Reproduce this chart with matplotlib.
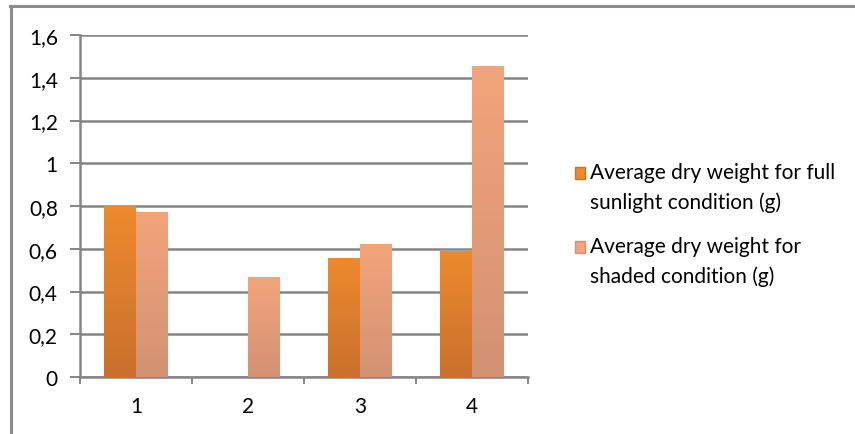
import numpy as np
import matplotlib
matplotlib.use('Agg')
import matplotlib.pyplot as plt
from matplotlib.colors import LinearSegmentedColormap
from matplotlib.lines import Line2D
from matplotlib.patches import Patch, Rectangle
from matplotlib.legend_handler import HandlerPatch

CATEGORIES = ['1', '2', '3', '4']
SUN = [0.80, 0.0, 0.555, 0.59]
SHADE = [0.77, 0.47, 0.62, 1.455]
LABELS = ['Average dry weight for full\nsunlight condition (g)',
          'Average dry weight for\nshaded condition (g)']
YTICKS = [0, 0.2, 0.4, 0.6, 0.8, 1.0, 1.2, 1.4, 1.6]
YTICK_LABELS = ['0', '0,2', '0,4', '0,6', '0,8', '1', '1,2', '1,4', '1,6']

# (top colour, bottom colour) for the Excel-like gradient
SUN_COLORS = ('#ee8a2c', '#c8702c')
SHADE_COLORS = ('#f3a47a', '#d39274')
GRID = '#858585'

plt.rcParams['font.family'] = ['Lato', 'DejaVu Sans']

fig = plt.figure(figsize=(8.55, 4.35), dpi=100)
ax = fig.add_axes([80 / 855, 1 - 378 / 435, 448 / 855, 342 / 435])

x = np.arange(len(CATEGORIES))
w = 0.285


def gradient_bars(xs, vals, colors):
    cmap = LinearSegmentedColormap.from_list('g', [colors[1], colors[0]])
    bars = ax.bar(xs, vals, w, color=colors[0], zorder=3)
    grad = np.linspace(0, 1, 256).reshape(-1, 1)
    for b in bars:
        if b.get_height() <= 0:
            continue
        bx, by = b.get_x(), b.get_y()
        im = ax.imshow(grad, cmap=cmap, aspect='auto', origin='lower',
                       extent=[bx, bx + b.get_width(), by, by + b.get_height()],
                       zorder=3.5)
        im.set_clip_path(b)
    return bars


gradient_bars(x - w / 2, SUN, SUN_COLORS)
gradient_bars(x + w / 2, SHADE, SHADE_COLORS)

ax.set_xlim(-0.5, len(CATEGORIES) - 0.5)
ax.set_ylim(0, 1.6)
ax.set_yticks(YTICKS)
ax.set_yticklabels(YTICK_LABELS)
ax.yaxis.grid(True, color=GRID, linewidth=1.8, zorder=0)
ax.set_axisbelow(True)

ax.set_xticks(x)
ax.set_xticklabels(CATEGORIES)
ax.set_xticks(np.arange(len(CATEGORIES) + 1) - 0.5, minor=True)
ax.tick_params(axis='x', which='major', length=0, pad=14, labelsize=15)
ax.tick_params(axis='x', which='minor', length=5, width=1.4, color=GRID, direction='out')
ax.tick_params(axis='y', length=7, width=1.4, color=GRID, pad=9, labelsize=15)

for s in ['top', 'right']:
    ax.spines[s].set_visible(False)
for s in ['left', 'bottom']:
    ax.spines[s].set_color(GRID)
    ax.spines[s].set_linewidth(1.8)


# Excel puts the legend square next to the first line of a wrapped label
def top_square(legend, orig_handle, xdescent, ydescent, width, height, fontsize):
    return Rectangle((-xdescent, -ydescent + 10.5), width, height)


handles = [Patch(facecolor=SUN_COLORS[0], edgecolor=SUN_COLORS[1]),
           Patch(facecolor=SHADE_COLORS[0], edgecolor=SHADE_COLORS[1])]
leg = fig.legend(handles, LABELS, loc='center left', bbox_to_anchor=(556 / 855, 1 - 225 / 435),
                 frameon=False, fontsize=15, handlelength=0.5, handleheight=0.5,
                 handletextpad=0.25, labelspacing=1.15,
                 handler_map={Patch: HandlerPatch(patch_func=top_square)})
for t in leg.get_texts():
    t.set_linespacing(1.55)

# outer chart border: top and left only
fig.add_artist(Line2D([10 / 855, 1], [1 - 7 / 435, 1 - 7 / 435], color='#8c8c8c',
                      linewidth=2.2, transform=fig.transFigure))
fig.add_artist(Line2D([11 / 855, 11 / 855], [0, 1 - 7 / 435], color='#8c8c8c',
                      linewidth=2.2, transform=fig.transFigure))

fig.savefig('out.png', dpi=100)
